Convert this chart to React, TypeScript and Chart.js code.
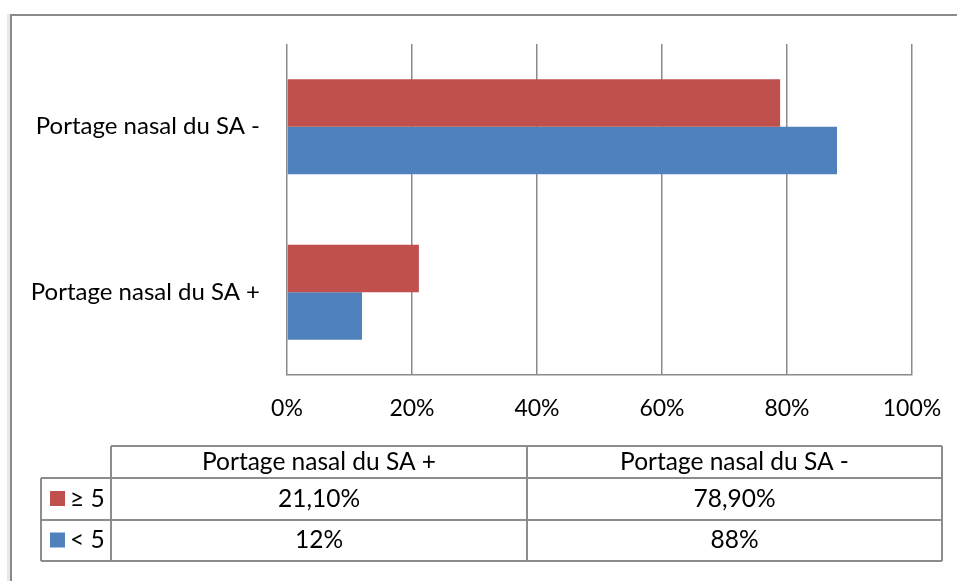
import React, { useEffect, useRef } from "react";
import { Chart, registerables } from "chart.js";

Chart.register(...registerables);

// Data (table order, as in the reference's data table)
const categories = ["Portage nasal du SA +", "Portage nasal du SA -"];
const seriesNames = ["≥ 5", "< 5"];
const seriesGE5 = [21.1, 78.9];
const seriesLT5 = [12, 88];
const seriesColors = ["#C0504D", "#4F81BD"];
const xTicks = [0, 20, 40, 60, 80, 100];

const FONT = "Lato";
const TICK_SIZE = 23;
const CAT_SIZE = 24;
const TABLE_SIZE = 24.5;

function fmtPct(v: number): string {
  if (Number.isInteger(v)) return `${v}%`;
  return v.toFixed(2).replace(".", ",") + "%";
}

export default function App() {
  const ref = useRef<HTMLCanvasElement | null>(null);

  useEffect(() => {
    document.body.style.margin = "0";
    const canvas = ref.current;
    if (!canvas) return;

    // Chart shows categories reversed (Excel style: first category at bottom)
    const chartLabels = [...categories].reverse();
    const allSeries = [seriesGE5, seriesLT5];

    const tablePlugin = {
      id: "dataTableAndFrame",
      beforeDraw(chart: any) {
        const ctx = chart.ctx;
        ctx.save();
        ctx.fillStyle = "#ffffff";
        ctx.fillRect(0, 0, chart.width, chart.height);
        // outer frame
        ctx.fillStyle = "#e8e8e8";
        ctx.fillRect(7, 14, 3, chart.height - 14);
        ctx.fillStyle = "#8a8a8a";
        ctx.fillRect(10, 14, 2, chart.height - 14);
        ctx.fillRect(10, 14, chart.width - 10, 2);
        ctx.restore();
      },
      afterDraw(chart: any) {
        const ctx = chart.ctx;
        ctx.save();
        const colX = [41, 111, 527, 942];
        const rowY = [446, 478, 520, 561];
        ctx.strokeStyle = "#8c8c8c";
        ctx.lineWidth = 2;
        ctx.beginPath();
        ctx.moveTo(colX[1], rowY[0]);
        ctx.lineTo(colX[3], rowY[0]);
        for (let r = 1; r < rowY.length; r++) {
          ctx.moveTo(colX[0], rowY[r]);
          ctx.lineTo(colX[3], rowY[r]);
        }
        ctx.moveTo(colX[0], rowY[1]);
        ctx.lineTo(colX[0], rowY[3]);
        for (let c = 1; c < colX.length; c++) {
          ctx.moveTo(colX[c], rowY[0]);
          ctx.lineTo(colX[c], rowY[3]);
        }
        ctx.stroke();

        ctx.fillStyle = "#000000";
        ctx.font = `${TABLE_SIZE}px ${FONT}`;
        ctx.textAlign = "center";
        ctx.textBaseline = "middle";
        const hy = (rowY[0] + rowY[1]) / 2;
        categories.forEach((cat, i) => {
          const cx = (colX[i + 1] + colX[i + 2]) / 2;
          ctx.fillText(cat, cx, hy);
        });
        allSeries.forEach((vals, s) => {
          const ry = (rowY[s + 1] + rowY[s + 2]) / 2;
          ctx.fillStyle = seriesColors[s];
          ctx.fillRect(50, ry - 8, 15, 15);
          ctx.fillStyle = "#000000";
          ctx.textAlign = "left";
          ctx.fillText(seriesNames[s], 70, ry);
          ctx.textAlign = "center";
          vals.forEach((v, i) => {
            const cx = (colX[i + 1] + colX[i + 2]) / 2;
            ctx.fillText(fmtPct(v), cx, ry);
          });
        });
        ctx.restore();
      },
    };

    const chart = new Chart(canvas, {
      type: "bar",
      data: {
        labels: chartLabels,
        datasets: allSeries.map((vals, s) => ({
          label: seriesNames[s],
          data: [...vals].reverse(),
          backgroundColor: seriesColors[s],
          borderWidth: 0,
          categoryPercentage: 0.575,
          barPercentage: 1.0,
        })),
      },
      options: {
        indexAxis: "y",
        animation: false,
        responsive: false,
        maintainAspectRatio: false,
        layout: { padding: { top: 44, right: 45, left: 0, bottom: 0 } },
        plugins: {
          legend: { display: false },
          tooltip: { enabled: false },
          title: { display: false },
        },
        scales: {
          x: {
            min: 0,
            max: 100,
            afterBuildTicks: (scale: any) => {
              scale.ticks = xTicks.map((v) => ({ value: v }));
            },
            afterFit: (scale: any) => {
              scale.height = 206;
              scale.paddingLeft = 0;
              scale.paddingRight = 0;
            },
            ticks: {
              callback: (v: any) => `${v}%`,
              color: "#000000",
              font: { family: FONT, size: TICK_SIZE },
              padding: 20,
              maxRotation: 0,
            },
            grid: {
              color: "#8a8a8a",
              lineWidth: 1.5,
              drawTicks: false,
            },
            border: { display: true, color: "#8a8a8a", width: 1.5 },
          },
          y: {
            afterFit: (scale: any) => {
              scale.width = 287;
              scale.paddingTop = 0;
              scale.paddingBottom = 0;
            },
            ticks: {
              color: "#000000",
              font: { family: FONT, size: CAT_SIZE },
              padding: 27,
            },
            grid: { display: false, drawTicks: false },
            border: { display: false },
          },
        },
      },
      plugins: [tablePlugin],
    });

    return () => {
      chart.destroy();
    };
  }, []);

  return (
    <div style={{ position: "fixed", left: 0, top: 0, width: 957, height: 581, background: "#fff" }}>
      <canvas ref={ref} width={957} height={581} style={{ width: 957, height: 581, display: "block" }} />
    </div>
  );
}
